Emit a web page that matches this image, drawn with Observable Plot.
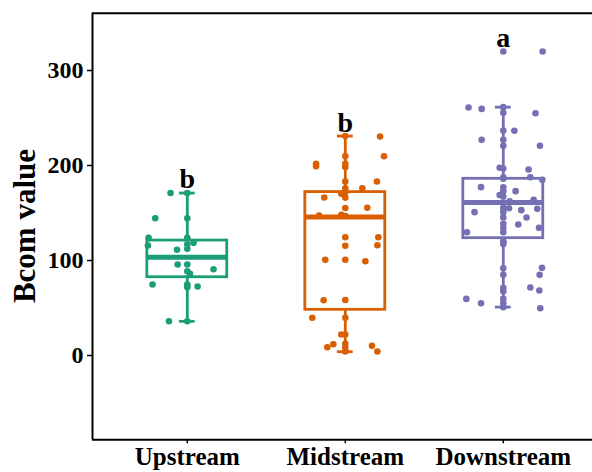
<!DOCTYPE html>
<html>
<head>
<meta charset="utf-8">
<script src="https://cdn.jsdelivr.net/npm/d3@7"></script>
<script src="https://cdn.jsdelivr.net/npm/@observablehq/plot@0.6"></script>
<style>
  html, body { margin: 0; padding: 0; background: white; }
</style>
</head>
<body>
<div id="chart"></div>
<script>
// ---- data ----
const groups = ["Upstream", "Midstream", "Downstream"];
const colors = ["#1b9e77", "#d95f02", "#7570b3"];
const yTicks = [0, 100, 200, 300];

// box-plot summaries per group
const whiskerLow = [36, 4, 51];
const boxQ1 = [82.4, 48.1, 123.5];
const boxMedian = [103.5, 145.7, 161.1];
const boxQ3 = [121, 172, 186];
const whiskerHigh = [171, 231, 261.4];

// significance letters and the value they sit on
const letters = ["b", "b", "a"];
const letterAt = [176, 235, 325];

// points drawn on the group centre
const upstreamCentre = [171, 144.5, 124, 117, 112.3, 95.8, 88.7, 74.7, 71.9, 36.1];
const midstreamCentre = [231, 209.8, 201.8, 198.5, 183.2, 176.1, 172, 166.2, 155.3, 146.8, 124.5, 115.5, 100.8, 58.4, 39.7, 22.1, 12.3, 8.1, 4.3];
const downstreamCentre = [320, 261.4, 255.4, 236.8, 227, 220.7, 196.8, 187.7, 186, 177, 173, 167.4, 161, 155.4, 150.9, 145.3, 138.6, 134.4, 129.8, 120.3, 119, 117.5, 91.9, 84.9, 71.2, 67.7, 59.6, 55, 50.9];

// jittered points: values and horizontal jitter (in category units)
const upstreamJitter = [171, 144.5, 124, 115.8, 118.6, 111.3, 95.8, 86, 90.8, 74.7, 72.6, 36.1];
const upstreamOffset = [-0.106, -0.203, -0.245, -0.249, 0.04, -0.065, -0.061, 0.017, 0.166, -0.22, 0.065, -0.116];
const midstreamJitter = [230.5, 209.8, 201.8, 199.3, 183.2, 176.1, 170.2, 166.3, 155.5, 147.4, 148.1, 124.5, 116, 100.7, 99.3, 58.2, 39.7, 22.1, 11.9, 8.7, 10.2, 4.2];
const midstreamOffset = [0.22, 0.245, -0.185, -0.185, 0.2, 0.108, -0.025, -0.133, 0.139, -0.166, -0.025, 0.209, 0.203, -0.127, 0.127, -0.137, -0.209, -0.025, -0.076, -0.114, 0.169, 0.203];
const downstreamJitter = [320, 261, 259.6, 255, 236.5, 227, 220.7, 197.6, 195.8, 187.7, 185, 177.2, 173, 169, 163.9, 162.4, 150.9, 155, 153, 154.4, 145.3, 137.9, 134.4, 129.8, 92.3, 84.9, 71.6, 68.4, 59.6, 55, 49.8];
const downstreamOffset = [0.249, -0.22, -0.137, 0.204, 0.07, -0.137, 0.232, -0.023, 0.16, 0.171, 0.247, -0.141, 0.078, -0.023, 0.192, 0.04, -0.182, 0.036, 0.114, 0.215, 0.147, 0.095, 0.226, -0.23, 0.245, 0.23, 0.171, 0.228, -0.234, -0.141, 0.234];

// ---- tables built from the arrays ----
const centres = [upstreamCentre, midstreamCentre, downstreamCentre];
const jitters = [upstreamJitter, midstreamJitter, downstreamJitter];
const offsets = [upstreamOffset, midstreamOffset, downstreamOffset];

const boxes = groups.map((g, i) => ({
  g, i: i + 1, lo: whiskerLow[i], q1: boxQ1[i], med: boxMedian[i], q3: boxQ3[i], hi: whiskerHigh[i],
  letter: letters[i], ly: letterAt[i]
}));
const centrePts = groups.flatMap((g, i) => centres[i].map(v => ({g, i: i + 1, v})));
const jitterPts = groups.flatMap((g, i) => jitters[i].map((v, k) => ({g, i: i + 1, v, dx: offsets[i][k]})));

const halfBox = 0.253, halfCap = 0.05;
const xDomain = [0.4, 0.4 + 500 / 158];
const yDomain = [-88.7, 360.3];
const font = "'Liberation Serif', 'Times New Roman', serif";

const plot = Plot.plot({
  width: 592,
  height: 472,
  marginLeft: 92,
  marginRight: 0,
  marginTop: 12.7,
  marginBottom: 32.7,
  style: {fontFamily: font, fontWeight: "bold", background: "white", color: "black", overflow: "visible"},
  x: {domain: xDomain, axis: null},
  y: {domain: yDomain, axis: null},
  color: {domain: groups, range: colors},
  marks: [
    Plot.axisY({ticks: yTicks, tickSize: 5, tickPadding: 4, fontSize: 24, fontWeight: "bold", label: null, strokeWidth: 1.5}),
    Plot.axisX({ticks: [1, 2, 3], tickFormat: d => groups[d - 1], tickSize: 4, tickPadding: 3, fontSize: 25, fontWeight: "bold", label: null, strokeWidth: 1.5}),
    Plot.ruleX([xDomain[0]], {stroke: "black", strokeWidth: 2}),
    Plot.ruleY(yDomain, {stroke: "black", strokeWidth: 2}),
    Plot.rect(boxes, {x1: d => d.i - halfBox, x2: d => d.i + halfBox, y1: "q1", y2: "q3", fill: "none", stroke: "g", strokeWidth: 2.8}),
    Plot.ruleY(boxes, {y: "med", x1: d => d.i - halfBox, x2: d => d.i + halfBox, stroke: "g", strokeWidth: 5}),
    Plot.ruleX(boxes, {x: "i", y1: "lo", y2: "q1", stroke: "g", strokeWidth: 2.8}),
    Plot.ruleX(boxes, {x: "i", y1: "q3", y2: "hi", stroke: "g", strokeWidth: 2.8}),
    Plot.ruleY(boxes, {y: "lo", x1: d => d.i - halfCap, x2: d => d.i + halfCap, stroke: "g", strokeWidth: 2.8}),
    Plot.ruleY(boxes, {y: "hi", x1: d => d.i - halfCap, x2: d => d.i + halfCap, stroke: "g", strokeWidth: 2.8}),
    Plot.dot(centrePts, {x: "i", y: "v", r: 3.3, fill: "g"}),
    Plot.dot(jitterPts, {x: d => d.i + d.dx, y: "v", r: 3.3, fill: "g"}),
    Plot.text(boxes, {x: "i", y: "ly", text: "letter", fontSize: 28, fontWeight: "bold", lineAnchor: "bottom", fill: "black"})
  ]
});

const svg = d3.select(plot);
svg.append("text")
  .attr("transform", "translate(35,226) rotate(-90)")
  .attr("text-anchor", "middle")
  .style("font-family", font)
  .style("font-weight", "bold")
  .style("font-size", "31px")
  .attr("fill", "black")
  .text("Bcom value");

document.getElementById("chart").appendChild(plot);
</script>
</body>
</html>
